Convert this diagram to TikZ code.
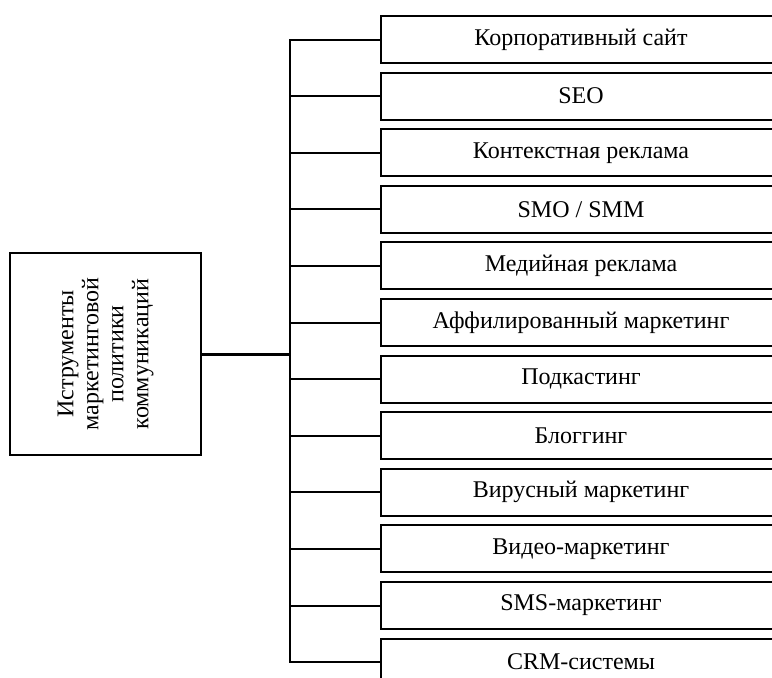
\documentclass[tikz,border=0pt]{standalone}
\usepackage{fontspec}
\setmainfont{Liberation Serif}
\usetikzlibrary{positioning}
\tikzset{tool/.style={draw, line width=2pt, minimum width=400pt, minimum height=47pt, inner sep=0pt, anchor=west}}
\tikzset{link/.style={draw, color=black, line width=2pt}}

\begin{document}
\begin{tikzpicture}[x=1pt, y=-1pt, font=\fontsize{24}{25}\selectfont]
                \useasboundingbox (0,0) rectangle (772,678);
                \clip (0,0) rectangle (772,678);

                % left block
                \node [draw, line width=2pt, rotate=90, minimum width=202pt, minimum height=191pt,
                    inner sep=0pt, align=center] (main) at (105.5,354)
                    {Иструменты\\маркетинговой\\политики\\коммуникаций};
                \coordinate (trunk) at (290,354);

                % tools
                \node [tool] (corp) at (380,39.5) {Корпоративный сайт};
                \node [tool] (seo) at (380,96.1) {SEO};
                \node [tool] (context) at (380,152.7) {Контекстная реклама};
                \node [tool] (smo) at (380,209.3) {SMO / SMM};
                \node [tool] (media) at (380,265.9) {Медийная реклама};
                \node [tool] (affil) at (380,322.5) {Аффилированный маркетинг};
                \node [tool] (podcast) at (380,379.1) {Подкастинг};
                \node [tool] (blog) at (380,435.7) {Блоггинг};
                \node [tool] (viral) at (380,492.3) {Вирусный маркетинг};
                \node [tool] (video) at (380,548.9) {Видео-маркетинг};
                \node [tool] (sms) at (380,605.5) {SMS-маркетинг};
                \node [tool] (crm) at (380,662.1) {CRM-системы};

                \draw [link, line width=3pt] (main.south) -- (trunk);
                \draw [link] (corp.west) -- (corp.west -| trunk) -- (crm.west -| trunk) -- (crm.west);
                \path [link] (seo.west) edge (seo.west -| trunk)
                    (context.west) edge (context.west -| trunk)
                    (smo.west) edge (smo.west -| trunk)
                    (media.west) edge (media.west -| trunk)
                    (affil.west) edge (affil.west -| trunk)
                    (podcast.west) edge (podcast.west -| trunk)
                    (blog.west) edge (blog.west -| trunk)
                    (viral.west) edge (viral.west -| trunk)
                    (video.west) edge (video.west -| trunk)
                    (sms.west) edge (sms.west -| trunk);
\end{tikzpicture}
\end{document}
